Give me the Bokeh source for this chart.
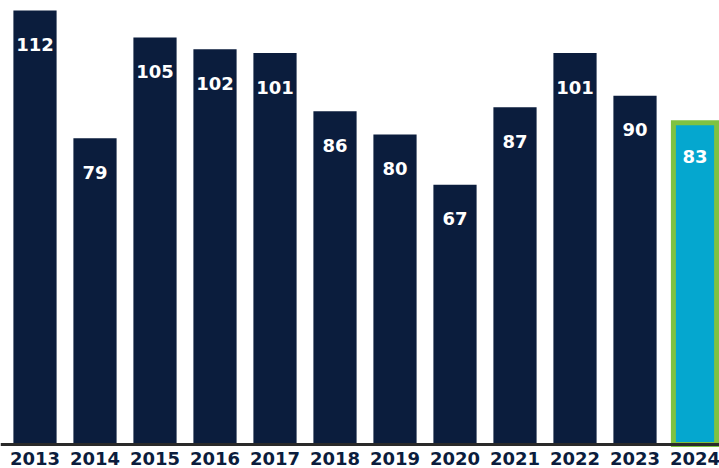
from bokeh.plotting import figure
from bokeh.models import ColumnDataSource, Span
from bokeh.core.properties import value
from bokeh.embed import file_html
from bokeh.resources import INLINE

years = ["2013", "2014", "2015", "2016", "2017", "2018", "2019", "2020", "2021", "2022", "2023", "2024"]
counts = [112, 79, 105, 102, 101, 86, 80, 67, 87, 101, 90, 83]

NAVY = "#0b1d3d"
CYAN = "#05a7cf"
GREEN = "#7fc241"

idx = list(range(len(years)))
src_hist = ColumnDataSource(dict(x=idx[:-1], top=counts[:-1]))
src_last = ColumnDataSource(dict(x=idx[-1:], top=counts[-1:]))
src_all = ColumnDataSource(dict(x=idx, top=counts, lab=[str(v) for v in counts], yr=years, zero=[0] * len(idx)))

p = figure(width=719, height=468, output_backend="svg", toolbar_location=None,
           x_range=(-0.575, 11.4083), y_range=(-6.194, 114.58),
           min_border=0, min_border_left=0, min_border_right=0, min_border_top=0, min_border_bottom=0)
p.axis.visible = False
p.grid.visible = False
p.outline_line_color = None
p.background_fill_color = "white"

p.vbar(x="x", top="top", width=0.72, bottom=0, source=src_hist, fill_color=NAVY, line_color=None)
p.vbar(x="x", top="top", width=0.72, bottom=0, source=src_last, fill_color=CYAN, line_color=GREEN,
       line_width=5, line_join="miter")

p.add_layout(Span(location=0, dimension="width", line_color="#2a2a2a", line_width=3))

p.text(x="x", y="top", text="lab", source=src_all, text_color="white", text_font=value("DejaVu Sans"),
       text_font_style="bold", text_font_size="18px", text_align="center", text_baseline="middle", y_offset=34)
p.text(x="x", y="zero", text="yr", source=src_all, text_color=NAVY, text_font=value("DejaVu Sans"),
       text_font_style="bold", text_font_size="18px", text_align="center", text_baseline="middle", y_offset=14)

open("out.html", "w").write(file_html(p, INLINE))
